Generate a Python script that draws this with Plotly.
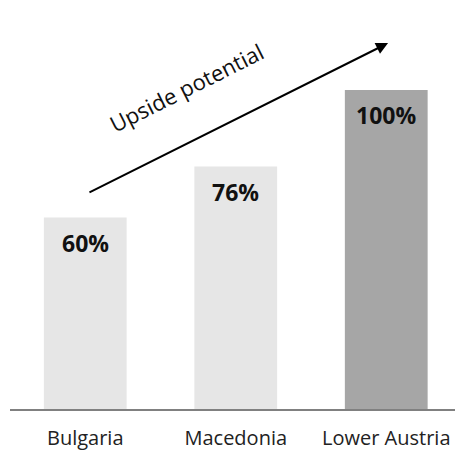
import plotly.graph_objects as go

categories = ["Bulgaria", "Macedonia", "Lower Austria"]
values = [60, 76, 100]
value_labels = ["60%", "76%", "100%"]
bar_colors = ["#e6e6e6", "#e6e6e6", "#a6a6a6"]
arrow_label = "Upside potential"

fig = go.Figure()
fig.add_trace(go.Bar(
    x=list(range(len(categories))), y=values,
    marker=dict(color=bar_colors, line=dict(width=0)),
    width=0.55, hoverinfo="skip", showlegend=False,
))

for i, (v, lab) in enumerate(zip(values, value_labels)):
    fig.add_annotation(x=i, y=v, text="<b>%s</b>" % lab, showarrow=False,
                       yanchor="middle", yshift=-25,
                       font=dict(family="Open Sans", size=23, color="#111111"))

# arrow
fig.add_annotation(x=2.012, y=114.7, ax=0.018, ay=67.7,
                   xref="x", yref="y", axref="x", ayref="y",
                   showarrow=True, arrowhead=2, arrowsize=1.2, arrowwidth=2,
                   arrowcolor="#000000", text="")
fig.add_annotation(x=0.676, y=100.9, text=arrow_label, showarrow=False,
                   textangle=-26.6,
                   font=dict(family="Open Sans", size=22, color="#111111"))

fig.update_layout(
    width=455, height=451,
    margin=dict(l=10, r=0, t=0, b=42),
    paper_bgcolor="white", plot_bgcolor="white",
    xaxis=dict(range=[-0.5, -0.5 + 445 / 150.5], tickmode="array",
               tickvals=list(range(len(categories))), ticktext=categories,
               showline=True, linecolor="#808080", linewidth=1.5,
               showgrid=False, zeroline=False, ticks="",
               tickfont=dict(family="Open Sans", size=20, color="#222222"),
               ticklabelstandoff=10),
    yaxis=dict(range=[0, 409 / 3.19], visible=False, showgrid=False,
               zeroline=False),
)
fig.write_html("out.html")
